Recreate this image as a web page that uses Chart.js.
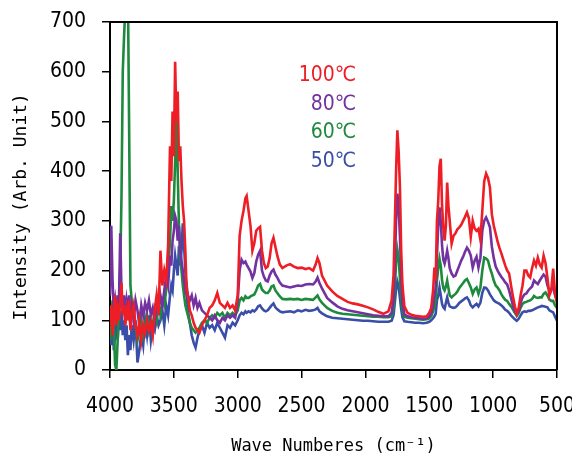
<!DOCTYPE html>
<html>
<head>
<meta charset="utf-8">
<script src="https://cdn.jsdelivr.net/npm/chart.js@4.4.0/dist/chart.umd.min.js"></script>
<style>
  body { margin: 0; background: #fff; }
</style>
</head>
<body>
<canvas id="ir-chart" width="572" height="463"></canvas>
<script>
// wave numbers (cm-1), shared by all four spectra
var waveNumbers = [
  4000, 3990, 3980, 3970, 3960, 3950, 3940, 3930, 3920, 3910,
  3900, 3890, 3880, 3870, 3860, 3850, 3840, 3830, 3815, 3800,
  3785, 3770, 3755, 3740, 3725, 3710, 3695, 3680, 3665, 3650,
  3635, 3620, 3605, 3590, 3575, 3560, 3545, 3530, 3520, 3510,
  3500, 3490, 3480, 3470, 3460, 3450, 3440, 3430, 3420, 3410,
  3400, 3390, 3375, 3360, 3345, 3330, 3315, 3300,
  3280, 3260, 3240, 3220, 3200, 3180, 3160, 3140, 3120, 3100,
  3080, 3060, 3040, 3020, 3000, 2985, 2970, 2955, 2940, 2930,
  2915, 2900, 2885, 2870, 2855, 2840, 2825, 2810, 2795, 2780,
  2765, 2750, 2735, 2720, 2705, 2690, 2670, 2650, 2620, 2590,
  2560, 2530, 2500, 2470, 2440, 2410, 2390, 2375, 2360, 2340,
  2300, 2260, 2220, 2180, 2140, 2100, 2060, 2020, 1980, 1940,
  1900, 1860, 1820, 1795, 1780, 1770, 1760, 1750, 1740, 1730,
  1720, 1710, 1695, 1670, 1640, 1610, 1580, 1550, 1520, 1500,
  1485, 1470, 1460, 1450, 1440, 1430, 1420, 1410, 1400, 1390,
  1380, 1370, 1360, 1350, 1340, 1325, 1310, 1295, 1280, 1265,
  1250, 1235, 1220, 1205, 1190, 1175, 1160, 1145, 1130, 1115,
  1100, 1085, 1070, 1055, 1040, 1025, 1010, 995, 980, 965,
  950, 935, 920, 905, 890, 875, 860, 845, 830, 815,
  800, 785, 770, 755, 740, 725, 710, 695, 680, 665,
  650, 635, 620, 605, 590, 575, 560, 545, 530, 515,
  500
];

var int100 = [
  90, 130, 70, 110, 150, 90, 120, 100, 140, 175,
  110, 130, 90, 120, 100, 140, 80, 110, 130, 90,
  70, 100, 60, 90, 75, 100, 80, 95, 70, 120,
  150, 110, 240, 170, 200, 180, 250, 450, 380, 520,
  430, 620, 500, 560, 420, 450, 380, 330, 300, 240,
  160, 150, 120, 110, 95, 85, 80, 75,
  90, 100, 110, 125, 130, 140, 155, 135, 130, 125,
  135, 125, 130, 120, 150, 270, 300, 320, 345, 350,
  320, 290, 240, 255, 280, 285, 288, 240, 215, 205,
  208, 225, 255, 266, 248, 230, 212, 205, 210, 213,
  208, 205, 206, 203, 205, 200, 212, 225, 215, 190,
  170, 158, 149, 143, 137, 134, 132, 129, 126, 122,
  117, 113, 118, 140, 190, 290, 400, 482, 440, 370,
  240, 170, 128, 115, 111, 109, 108, 107, 108, 115,
  125, 160, 206, 180, 300, 340, 410, 425, 330, 287,
  260, 290, 377, 330, 300, 254, 270, 275, 283, 287,
  292, 300, 308, 317, 305, 268, 300, 285, 280, 284,
  262, 320, 380, 395, 386, 367, 313, 290, 274, 258,
  245, 234, 222, 210, 200, 194, 170, 148, 128, 113,
  125, 150, 170, 200, 200, 190, 186, 205, 220, 210,
  226, 212, 206, 230, 215, 186, 150, 160, 204, 153,
  135
];

var int80 = [
  150, 290, 180, 120, 140, 110, 150, 130, 275, 160,
  120, 150, 110, 140, 120, 150, 110, 130, 100, 140,
  120, 90, 130, 110, 135, 120, 140, 110, 125, 100,
  130, 120, 150, 130, 160, 190, 170, 230, 210, 260,
  280, 310, 300, 260, 290, 240, 220, 200, 180, 160,
  170, 150, 140, 150, 130, 145, 125, 135,
  120, 115, 110, 105, 100, 110, 100, 95, 105, 100,
  110, 105, 110, 105, 140, 200, 222, 215, 218, 212,
  205, 198, 185, 195, 218, 232, 240, 200, 188, 180,
  178, 190, 198, 202, 192, 186, 176, 170, 168, 166,
  168, 170, 169, 172, 173, 172, 178, 186, 175, 164,
  145, 136, 128, 123, 120, 118, 116, 114, 112, 110,
  109, 108, 108, 115, 145, 210, 300, 355, 330, 270,
  190, 135, 112, 108, 106, 105, 104, 103, 104, 108,
  115, 130, 150, 165, 230, 290, 327, 300, 250, 222,
  214, 225, 240, 225, 205, 194, 188, 190, 200, 210,
  220, 228, 238, 246, 240, 230, 206, 220, 228, 206,
  225, 280, 300, 307, 298, 287, 248, 225, 208, 200,
  193, 187, 182, 176, 172, 160, 145, 130, 118, 113,
  118, 135, 146, 152, 154, 160, 164, 168, 180, 176,
  173, 180, 186, 192, 188, 170, 160, 163, 166, 150,
  139
];

var int60 = [
  60, 100, 140, 80, 10, 0, 60, 120, 200, 350,
  600, 670, 730, 780, 770, 480, 170, 140, 110, 90,
  60, 80, 100, 70, 90, 110, 80, 100, 90, 120,
  100, 130, 110, 140, 130, 160, 200, 260, 330, 300,
  340, 420, 550, 400, 290, 230, 200, 170, 150, 130,
  120, 110, 95, 85, 80, 75, 80, 85,
  95, 100, 95, 105, 110, 105, 115, 110, 115, 105,
  115, 110, 115, 110, 120, 140, 145, 140, 148, 145,
  145, 148, 150, 152, 160, 170, 173, 162, 158, 155,
  155, 160, 168, 170, 160, 155, 148, 143, 142, 143,
  142, 143, 141, 143, 142, 141, 146, 150, 142, 135,
  125, 119, 115, 113, 112, 111, 110, 109, 108, 107,
  107, 106, 106, 108, 125, 165, 215, 242, 225, 185,
  145, 118, 107, 105, 104, 103, 102, 101, 102, 104,
  108, 118, 128, 139, 180, 205, 224, 210, 180, 165,
  160, 168, 180, 165, 150, 146, 150, 153, 158, 165,
  170, 175, 180, 183, 175, 166, 153, 162, 166, 153,
  165, 200, 226, 224, 220, 205, 194, 180, 170, 166,
  160, 152, 146, 141, 139, 133, 128, 122, 115, 109,
  115, 125, 133, 136, 137, 139, 140, 143, 149, 146,
  145, 146, 146, 153, 156, 150, 142, 139, 139, 130,
  125
];

var int50 = [
  90, 50, 110, 40, 70, 100, 60, 110, 80, 120,
  70, 100, 60, 90, 30, 70, 40, 90, 60, 100,
  15, 40, 75, 50, 100, 70, 110, 60, 90, 80,
  110, 90, 100, 120, 90, 130, 110, 150, 170, 160,
  200, 230, 210, 190, 250, 210, 240, 295, 250, 200,
  150, 120, 95, 70, 55, 45, 65, 80,
  90, 75, 95, 85, 90, 80, 95, 85, 75, 65,
  90, 85, 95, 90, 100, 110, 115, 112, 118, 115,
  118, 116, 120, 118, 122, 128, 130, 124, 120, 118,
  120, 125, 130, 134, 126, 122, 118, 116, 117, 118,
  116, 120, 118, 121, 119, 120, 122, 125, 118, 114,
  108, 105, 104, 103, 102, 101, 100, 99, 99, 98,
  97, 97, 97, 99, 110, 135, 162, 178, 168, 145,
  122, 106, 98, 97, 96, 95, 95, 94, 95, 97,
  100, 104, 108, 113, 140, 150, 166, 150, 133, 126,
  123, 135, 146, 135, 128, 126, 125, 126, 130, 135,
  138, 141, 144, 146, 140, 130, 126, 130, 133, 128,
  135, 155, 166, 165, 160, 152, 146, 140, 137, 135,
  133, 130, 126, 121, 119, 115, 110, 106, 102, 99,
  103, 110, 116, 118, 117, 119, 119, 120, 122, 124,
  126, 127, 129, 128, 127, 126, 120, 118, 116, 107,
  99
];

var seriesLabels = ["100℃", "80℃", "60℃", "50℃"];
var seriesColors = ["rgb(237, 30, 38)", "rgb(114, 50, 160)", "rgb(30, 138, 62)", "rgb(58, 78, 168)"];
var seriesData = [int100, int80, int60, int50];

var narrowFamily = "'DejaVu Sans Condensed', 'Liberation Sans Narrow', 'Roboto Condensed', 'DejaVu Sans'";
var tickFont = { family: narrowFamily, size: 21 };
var titleFamily = "'DejaVu Sans Mono', monospace";

// box border on top/right + in-plot temperature labels
var frameAndLabels = {
  id: "frameAndLabels",
  afterDraw(chart) {
    var ctx = chart.ctx;
    var area = chart.chartArea;
    ctx.save();
    ctx.strokeStyle = "#000";
    ctx.lineWidth = 2;
    ctx.beginPath();
    ctx.moveTo(area.left, area.top);
    ctx.lineTo(area.right, area.top);
    ctx.lineTo(area.right, area.bottom);
    ctx.stroke();

    var labelY = [76, 105, 133, 162];
    ctx.font = "21px " + narrowFamily + ", 'Noto Sans CJK JP'";
    ctx.textAlign = "right";
    ctx.textBaseline = "middle";
    seriesLabels.forEach((txt, i) => {
      ctx.fillStyle = seriesColors[i];
      ctx.fillText(txt, 356, labelY[i]);
    });
    ctx.restore();
  },
};

var datasets = seriesData.map((vals, i) => ({
  label: seriesLabels[i],
  data: waveNumbers.map((wn, j) => ({ x: wn, y: vals[j] })),
  borderColor: seriesColors[i],
  backgroundColor: seriesColors[i],
  borderWidth: 2.6,
  pointRadius: 0,
  tension: 0,
  fill: false,
}));

new Chart(document.getElementById("ir-chart"), {
  type: "line",
  data: { datasets: datasets },
  options: {
    responsive: false,
    devicePixelRatio: 1,
    animation: false,
    layout: { padding: { top: 22, right: 15, left: 0, bottom: 0 } },
    plugins: {
      legend: { display: false },
      tooltip: { enabled: false },
    },
    scales: {
      x: {
        type: "linear",
        reverse: true,
        min: 500,
        max: 4000,
        ticks: {
          stepSize: 500,
          autoSkip: false,
          maxRotation: 0,
          color: "#000",
          font: tickFont,
          padding: 16,
          callback: (v) => String(v),
        },
        grid: { drawOnChartArea: false, color: "#000", lineWidth: 1.5, tickLength: 8 },
        border: { color: "#000", width: 2 },
        title: {
          display: true,
          text: "Wave Numberes (cm⁻¹)",
          color: "#000",
          font: { family: titleFamily, size: 17 },
          padding: { top: 0, bottom: 6 },
        },
        afterFit: (scale) => {
          scale.height = 93;
          scale.paddingLeft = 0;
          scale.paddingRight = 0;
        },
      },
      y: {
        min: 0,
        max: 700,
        ticks: {
          stepSize: 100,
          color: "#000",
          font: tickFont,
          padding: 16,
        },
        grid: { drawOnChartArea: false, color: "#000", lineWidth: 1.5, tickLength: 8 },
        border: { color: "#000", width: 2 },
        title: {
          display: true,
          text: "Intensity (Arb. Unit)  ",
          color: "#000",
          font: { family: titleFamily, size: 18 },
          padding: { top: 11, bottom: 0 },
        },
        afterFit: (scale) => {
          scale.width = 110;
          scale.paddingTop = 0;
          scale.paddingBottom = 0;
        },
      },
    },
  },
  plugins: [frameAndLabels],
});
</script>
</body>
</html>
